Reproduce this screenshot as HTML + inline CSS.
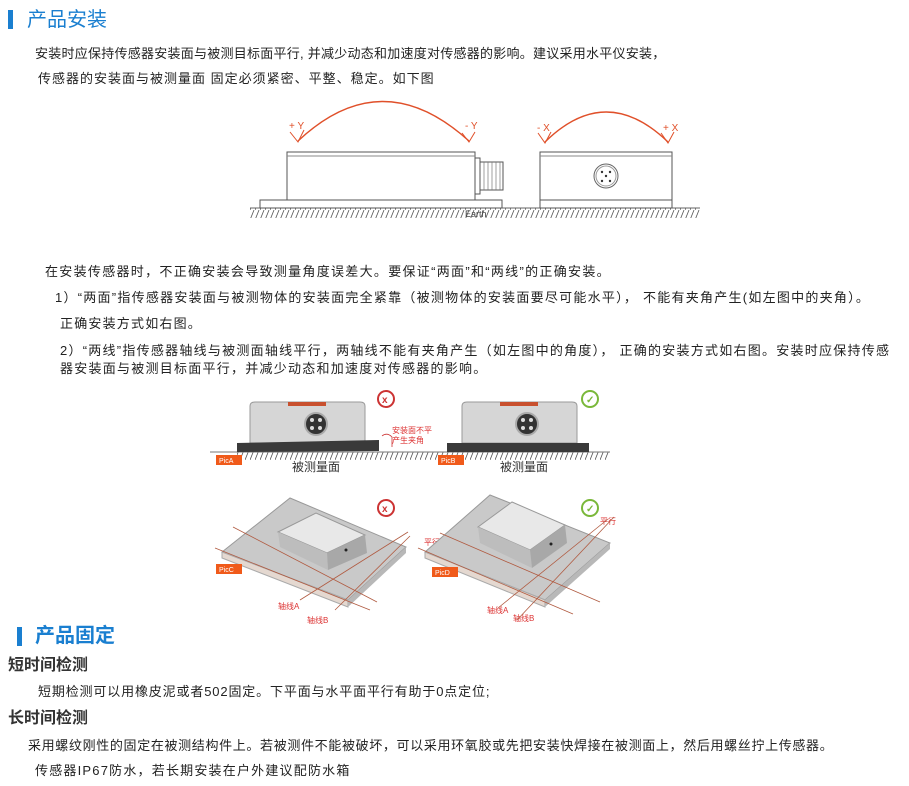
<!DOCTYPE html>
<html><head><meta charset="utf-8">
<style>
html,body{margin:0;padding:0;background:#fff;}
body{width:909px;height:786px;position:relative;overflow:hidden;font-family:"Liberation Sans","Noto Sans CJK SC",sans-serif;color:#222;}
.t{position:absolute;white-space:nowrap;font-size:13px;line-height:16px;}
.h1{position:absolute;font-size:20px;line-height:24px;color:#1a7fd0;white-space:nowrap;}
.bar{position:absolute;background:#1a7fd0;width:5px;height:19px;}
.h2{position:absolute;font-size:16px;font-weight:bold;line-height:20px;color:#333;white-space:nowrap;}
svg{position:absolute;left:0;top:0;}
</style></head><body>
<div class="bar" style="left:8px;top:10px"></div>
<div class="h1" style="left:27px;top:8px">产品安装</div>
<div class="t" style="left:35px;top:46px;letter-spacing:0.25px">安装时应保持传感器安装面与被测目标面平行, 并减少动态和加速度对传感器的影响。建议采用水平仪安装，</div>
<div class="t" style="left:38px;top:71px;letter-spacing:1px">传感器的安装面与被测量面 固定必须紧密、平整、稳定。如下图</div>

<div class="t" style="left:45px;top:264px;letter-spacing:1.3px">在安装传感器时，不正确安装会导致测量角度误差大。要保证“两面”和“两线”的正确安装。</div>
<div class="t" style="left:55px;top:290px;letter-spacing:1.25px">1）“两面”指传感器安装面与被测物体的安装面完全紧靠（被测物体的安装面要尽可能水平）， 不能有夹角产生(如左图中的夹角）。</div>
<div class="t" style="left:60px;top:316px;letter-spacing:1.2px">正确安装方式如右图。</div>
<div class="t" style="left:60px;top:343px;letter-spacing:1.25px">2）“两线”指传感器轴线与被测面轴线平行，两轴线不能有夹角产生（如左图中的角度）， 正确的安装方式如右图。安装时应保持传感</div>
<div class="t" style="left:60px;top:361px;letter-spacing:1.25px">器安装面与被测目标面平行，并减少动态和加速度对传感器的影响。</div>

<svg width="909" height="786" viewBox="0 0 909 786">
<defs>
<pattern id="hatch" width="5" height="10" patternUnits="userSpaceOnUse"><line x1="4" y1="0" x2="0" y2="10" stroke="#555" stroke-width="0.8"/></pattern>
</defs>
<rect x="250" y="208" width="450" height="10" fill="url(#hatch)"/>
<line x1="250" y1="208" x2="700" y2="208" stroke="#666"/>
<rect x="260" y="200" width="242" height="8" fill="#fff" stroke="#555"/>
<rect x="287" y="152" width="188" height="48" fill="#fff" stroke="#555"/>
<line x1="287" y1="156" x2="475" y2="156" stroke="#888"/>
<rect x="475" y="158" width="5" height="36" fill="#fff" stroke="#555"/>
<rect x="480" y="162" width="23" height="28" fill="#fff" stroke="#555"/>
<g stroke="#777" stroke-width="0.7"><line x1="484" y1="162" x2="484" y2="190"/><line x1="488" y1="162" x2="488" y2="190"/><line x1="492" y1="162" x2="492" y2="190"/><line x1="496" y1="162" x2="496" y2="190"/><line x1="500" y1="162" x2="500" y2="190"/></g>
<text x="465" y="217" font-size="9" fill="#444" font-family="Liberation Sans">Earth</text>
<rect x="540" y="200" width="132" height="8" fill="#fff" stroke="#555"/>
<rect x="540" y="152" width="132" height="48" fill="#fff" stroke="#555"/>
<line x1="540" y1="156" x2="672" y2="156" stroke="#888"/>
<circle cx="606" cy="176" r="12" fill="#fff" stroke="#666"/>
<circle cx="606" cy="176" r="10" fill="none" stroke="#999"/>
<g fill="#333"><circle cx="602" cy="172" r="1.2"/><circle cx="610" cy="172" r="1.2"/><circle cx="606" cy="176" r="1.2"/><circle cx="602" cy="181" r="1.2"/><circle cx="610" cy="181" r="1.2"/></g>
<path d="M298 141 Q382 62 469 141" fill="none" stroke="#e0502a" stroke-width="1.4"/>
<path d="M545 142 Q606 82 668 142" fill="none" stroke="#e0502a" stroke-width="1.4"/>
<g stroke="#e0502a" stroke-width="1" fill="none">
<path d="M290 132 L298 142 L304 130"/><path d="M462 133 L469 142 L475 132"/>
<path d="M538 133 L545 143 L551 132"/><path d="M661 133 L668 143 L674 132"/>
</g>
<g fill="#e0502a" font-size="10" font-family="Liberation Sans">
<text x="289" y="129">+ Y</text><text x="465" y="129">- Y</text>
<text x="537" y="131">- X</text><text x="663" y="131">+ X</text>
</g>

<rect x="237" y="452" width="373" height="8" fill="url(#hatch)"/>
<line x1="210" y1="452" x2="610" y2="452" stroke="#777"/>
<path d="M250 443 L250 406 Q250 402 255 402 L360 402 Q365 402 365 406 L365 443 Z" fill="#d6d6d6" stroke="#999"/>
<rect x="288" y="402" width="38" height="4" fill="#c8502e"/>
<circle cx="316" cy="424" r="11" fill="#333" stroke="#aaa" stroke-width="2"/>
<g fill="#ddd"><circle cx="312" cy="420" r="2"/><circle cx="320" cy="420" r="2"/><circle cx="312" cy="428" r="2"/><circle cx="320" cy="428" r="2"/></g>
<path d="M237 443 L379 440 L379 451 L237 452 Z" fill="#3a3a3a"/>
<path d="M462 443 L462 406 Q462 402 467 402 L572 402 Q577 402 577 406 L577 443 Z" fill="#d6d6d6" stroke="#999"/>
<rect x="500" y="402" width="38" height="4" fill="#c8502e"/>
<circle cx="527" cy="424" r="11" fill="#333" stroke="#aaa" stroke-width="2"/>
<g fill="#ddd"><circle cx="523" cy="420" r="2"/><circle cx="531" cy="420" r="2"/><circle cx="523" cy="428" r="2"/><circle cx="531" cy="428" r="2"/></g>
<rect x="447" y="443" width="142" height="9" fill="#3a3a3a"/>
<rect x="216" y="455" width="26" height="10" fill="#f05a1a"/>
<text x="219" y="463" font-size="7" fill="#fff">PicA</text>
<rect x="438" y="455" width="26" height="10" fill="#f05a1a"/>
<text x="441" y="463" font-size="7" fill="#fff">PicB</text>
<text x="292" y="471" font-size="12" fill="#333" font-family="Liberation Sans,Noto Sans CJK SC">被测量面</text>
<text x="500" y="471" font-size="12" fill="#333" font-family="Liberation Sans,Noto Sans CJK SC">被测量面</text>
<path d="M382 436 Q387 432 392 437 L392 447" fill="none" stroke="#c33" stroke-width="0.8"/>
<text x="392" y="433" font-size="8" fill="#d33" font-family="Liberation Sans,Noto Sans CJK SC">安装面不平</text>
<text x="392" y="443" font-size="8" fill="#d33" font-family="Liberation Sans,Noto Sans CJK SC">产生夹角</text>
<g font-family="Liberation Sans" font-weight="bold">
<circle cx="386" cy="399" r="8" fill="none" stroke="#c33" stroke-width="2"/><text x="382" y="403" font-size="10" fill="#c33">x</text>
<circle cx="590" cy="399" r="8" fill="none" stroke="#7ab83a" stroke-width="2"/><text x="586" y="403" font-size="10" fill="#7ab83a">✓</text>
<circle cx="386" cy="508" r="8" fill="none" stroke="#c33" stroke-width="2"/><text x="382" y="512" font-size="10" fill="#c33">x</text>
<circle cx="590" cy="508" r="8" fill="none" stroke="#7ab83a" stroke-width="2"/><text x="586" y="512" font-size="10" fill="#7ab83a">✓</text>
</g>

<path d="M222 552 L290 498 L406 547 L348 600 Z" fill="#c9c9c9" stroke="#999"/>
<path d="M222 552 L348 600 L348 607 L222 558 Z" fill="#e4d8d0" stroke="#aaa"/>
<path d="M348 600 L406 547 L406 553 L348 607 Z" fill="#b8b8b8"/>
<path d="M278 532 L316 513 L365 535 L327 553 Z" fill="#e8e8e8" stroke="#999"/>
<path d="M278 532 L327 553 L328 570 L280 547 Z" fill="#bdbdbd"/>
<path d="M327 553 L365 535 L367 553 L328 570 Z" fill="#a8a8a8"/>
<circle cx="346" cy="550" r="1.5" fill="#222"/>
<g stroke="#b05a40" stroke-width="0.8">
<line x1="233" y1="527" x2="377" y2="602"/><line x1="215" y1="548" x2="370" y2="610"/>
<line x1="300" y1="600" x2="408" y2="532"/><line x1="335" y1="610" x2="410" y2="536"/>
</g>
<rect x="216" y="564" width="26" height="10" fill="#f05a1a"/>
<text x="219" y="572" font-size="7" fill="#fff">PicC</text>
<g font-size="8" fill="#d33" font-family="Liberation Sans,Noto Sans CJK SC">
<text x="278" y="609">轴线A</text><text x="307" y="623">轴线B</text>
<text x="424" y="545">平行</text><text x="600" y="524">平行</text>
<text x="487" y="613">轴线A</text><text x="513" y="621">轴线B</text></g>

<path d="M425 552 L490 495 L610 543 L545 600 Z" fill="#c9c9c9" stroke="#999"/>
<path d="M425 552 L545 600 L545 607 L425 558 Z" fill="#e4d8d0" stroke="#aaa"/>
<path d="M545 600 L610 543 L610 549 L545 607 Z" fill="#b8b8b8"/>
<path d="M478 527 L512 502 L565 525 L530 550 Z" fill="#e8e8e8" stroke="#999"/>
<path d="M478 527 L530 550 L532 568 L480 543 Z" fill="#bdbdbd"/>
<path d="M530 550 L565 525 L567 543 L532 568 Z" fill="#a8a8a8"/>
<circle cx="551" cy="544" r="1.5" fill="#222"/>
<g stroke="#b05a40" stroke-width="0.8">
<line x1="418" y1="548" x2="573" y2="614"/><line x1="440" y1="533" x2="600" y2="602"/>
<line x1="517" y1="620" x2="614" y2="517"/><line x1="498" y1="608" x2="608" y2="519"/>
</g>
<rect x="432" y="567" width="26" height="10" fill="#f05a1a"/>
<text x="435" y="575" font-size="7" fill="#fff">PicD</text>
</svg>

<div class="bar" style="left:17px;top:627px"></div>
<div class="h1" style="left:35px;top:624px;font-weight:bold">产品固定</div>
<div class="h2" style="left:8px;top:656px">短时间检测</div>
<div class="t" style="left:38px;top:684px;letter-spacing:0.85px">短期检测可以用橡皮泥或者502固定。下平面与水平面平行有助于0点定位;</div>
<div class="h2" style="left:8px;top:709px">长时间检测</div>
<div class="t" style="left:28px;top:738px;letter-spacing:0.65px">采用螺纹刚性的固定在被测结构件上。若被测件不能被破坏，可以采用环氧胶或先把安装快焊接在被测面上，然后用螺丝拧上传感器。</div>
<div class="t" style="left:35px;top:763px;letter-spacing:1.2px">传感器IP67防水，若长期安装在户外建议配防水箱</div>
</body></html>
